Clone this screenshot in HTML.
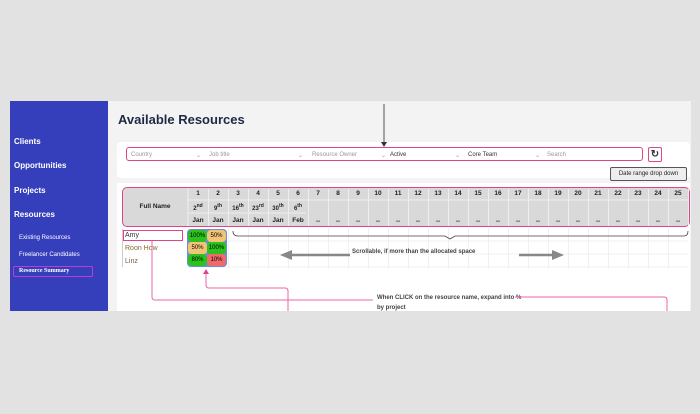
<!DOCTYPE html>
<html><head><meta charset="utf-8"><style>
*{margin:0;padding:0;box-sizing:border-box}
body{width:700px;height:414px;background:#e2e2e2;position:relative;overflow:hidden;font-family:"Liberation Sans",sans-serif}
.a{position:absolute}
.side{left:10px;top:101px;width:98px;height:210px;background:#363fbb}
.main{left:108px;top:101px;width:583px;height:210px;background:#f3f3f3}
.nav{color:#fff;font-weight:bold;font-size:8px}
.sub{color:#fff;font-size:6px}
.flt{font-size:6px;color:#999;top:152px}
.hd{font-size:6.5px;font-weight:bold;color:#222;text-align:center;width:20px}
</style></head><body>
<div class="a side"></div>
<div class="a main"></div>
<div class="a nav" style="left:14px;top:137px">Clients</div>
<div class="a nav" style="left:14px;top:161px">Opportunities</div>
<div class="a nav" style="left:14px;top:186px">Projects</div>
<div class="a nav" style="left:14px;top:210px">Resources</div>
<div class="a sub" style="left:19px;top:235px">Existing Resources</div>
<div class="a sub" style="left:19px;top:252px">Freelancer Candidates</div>
<div class="a" style="left:13px;top:266px;width:80px;height:11px;border:1px solid #c03bd0;border-radius:2px"></div>
<div class="a sub" style="left:19px;top:268px;font-family:'Liberation Serif',serif;font-weight:bold">Resource Summary</div>

<div class="a" style="left:118px;top:112px;font-size:13px;font-weight:bold;color:#1e2a44">Available Resources</div>
<div class="a" style="left:117px;top:142px;width:573px;height:36px;background:#fff;border-radius:4px"></div>
<div class="a" style="left:126px;top:147px;width:517px;height:14px;border:1px solid #e0458a;border-radius:3px"></div>
<div class="a flt" style="left:131px">Country</div>
<div class="a flt" style="left:209px">Job title</div>
<div class="a flt" style="left:312px">Resource Owner</div>
<div class="a flt" style="left:390px;color:#333">Active</div>
<div class="a flt" style="left:468px;color:#333">Core Team</div>
<div class="a flt" style="left:547px">Search</div>
<div class="a flt" style="left:196px">⌄</div><div class="a flt" style="left:298px">⌄</div><div class="a flt" style="left:381px">⌄</div><div class="a flt" style="left:455px">⌄</div><div class="a flt" style="left:535px">⌄</div>
<div class="a" style="left:648px;top:147px;width:14px;height:15px;border:1px solid #e0458a;border-radius:2px;font-size:10px;text-align:center;line-height:13px;color:#333;font-weight:bold">↻</div>
<div class="a" style="left:610px;top:167px;width:77px;height:14px;border:1px solid #555;border-radius:2px;background:#eee;font-size:6px;line-height:12px;text-align:center;color:#222">Date range drop down</div>

<div class="a" style="left:117px;top:183px;width:573px;height:128px;background:#fff"></div>
<div class="a" style="left:122px;top:187px;width:568px;height:40px;background:#d9d9d9;border:1px solid #e0458a;border-radius:5px"></div>
<div class="a hd" style="left:125px;top:203px;width:60px">Full Name</div>
<svg class="a" style="left:0;top:0" width="700" height="414">
<g stroke="#eee" stroke-width="1">
<line x1="188" y1="188" x2="188" y2="226"/><line x1="188" y1="200" x2="688" y2="200"/>
<line x1="188" y1="213" x2="306" y2="213"/>
<line x1="188" y1="241" x2="688" y2="241" stroke="#f2f2f2"/>
<line x1="188" y1="254" x2="688" y2="254" stroke="#f2f2f2"/>
<line x1="188" y1="267" x2="688" y2="267" stroke="#f2f2f2"/>
</g>
</svg>
<div class="a" style="left:0;top:0">
<script>
var s='';var n=['1','2','3','4','5','6','7','8','9','10','11','12','13','14','15','16','17','18','19','20','21','22','23','24','25'];
var d=['2<sup>nd</sup>','9<sup>th</sup>','16<sup>th</sup>','23<sup>rd</sup>','30<sup>th</sup>','6<sup>th</sup>'];
var m=['Jan','Jan','Jan','Jan','Jan','Feb'];
for(var i=0;i<25;i++){var x=188+i*20;
s+='<div class="a hd" style="left:'+x+'px;top:190px">'+n[i]+'</div>';
s+='<div class="a" style="left:'+(x+20)+'px;top:189px;width:1px;height:'+(i<6?37:11)+'px;background:#eee"></div>';
if(i<6){s+='<div class="a hd" style="left:'+x+'px;top:203px;font-size:6px">'+d[i]+'</div><div class="a hd" style="left:'+x+'px;top:217px">'+m[i]+'</div>';}
else{s+='<div class="a" style="left:'+(x+20)+'px;top:200px;width:1px;height:26px;background:#eee"></div><div class="a hd" style="left:'+x+'px;top:218px">--</div>';}
s+='<div class="a" style="left:'+x+'px;top:228px;width:1px;height:40px;background:#f0f0f0"></div>';}
document.write(s);
</script>
</div>
<div class="a" style="left:122px;top:229px;width:1px;height:38px;background:#ccc"></div>
<div class="a" style="left:123px;top:230px;width:60px;height:11px;border:1px solid #e0458a"></div>
<div class="a" style="left:125px;top:232px;font-size:7px;color:#333">Amy</div>
<div class="a" style="left:125px;top:245px;font-size:7px;color:#8a6a30">Roon How</div>
<div class="a" style="left:125px;top:258px;font-size:7px;color:#7a5a40">Linz</div>
<div class="a" style="left:187px;top:229px;width:40px;height:38px;border-radius:4px;background:#6c8fcf"></div>
<div class="a" style="left:188px;top:230px;width:19px;height:12px;background:#2bc21d;border-radius:4px;font-size:6px;text-align:center;line-height:12px">100%</div>
<div class="a" style="left:207px;top:230px;width:19px;height:12px;background:#f2c478;border-radius:4px;font-size:6px;text-align:center;line-height:12px">50%</div>
<div class="a" style="left:188px;top:242px;width:19px;height:12px;background:#f2c478;border-radius:3px;font-size:6px;text-align:center;line-height:12px">50%</div>
<div class="a" style="left:207px;top:242px;width:19px;height:12px;background:#2bc21d;border-radius:3px;font-size:6px;text-align:center;line-height:12px">100%</div>
<div class="a" style="left:188px;top:254px;width:19px;height:12px;background:#2bc21d;border-radius:4px;font-size:6px;text-align:center;line-height:12px">80%</div>
<div class="a" style="left:207px;top:254px;width:19px;height:12px;background:#f06a6a;border-radius:4px;font-size:6px;text-align:center;line-height:12px">10%</div>
<div class="a" style="left:352px;top:249px;font-size:6px;font-weight:bold;color:#444">Scrollable, if more than the allocated space</div>
<div class="a" style="left:377px;top:293px;font-size:6px;font-weight:bold;color:#444;width:150px;line-height:10px">When CLICK on the resource name, expand into % by project</div>
<svg class="a" style="left:0;top:0" width="700" height="414">
<path d="M233 231 Q233 236 238 236 L445 236 L450 239 L455 236 L684 236 Q688 236 688 231" fill="none" stroke="#444" stroke-width="0.8"/>
<line x1="290" y1="255" x2="350" y2="255" stroke="#888" stroke-width="2.5"/>
<polygon points="280,255 292,250 292,260" fill="#888"/>
<line x1="519" y1="255" x2="555" y2="255" stroke="#888" stroke-width="2.5"/>
<polygon points="564,255 552,250 552,260" fill="#888"/>
<line x1="384" y1="104" x2="384" y2="142" stroke="#555" stroke-width="1"/>
<polygon points="381,142 387,142 384,147" fill="#333"/>
<g fill="none" stroke="#e866a8" stroke-width="1">
<path d="M152 241 L152 297 Q152 300 155 300 L373 300"/>
<path d="M206 273 L206 285 Q206 288 209 288 L285 288 Q288 288 288 291 L288 311"/>
<path d="M515 297 L664 297 Q667 297 667 300 L667 311"/>
</g>
<polygon points="203,274 209,274 206,269" fill="#e0458a"/>
</svg>
</body></html>
